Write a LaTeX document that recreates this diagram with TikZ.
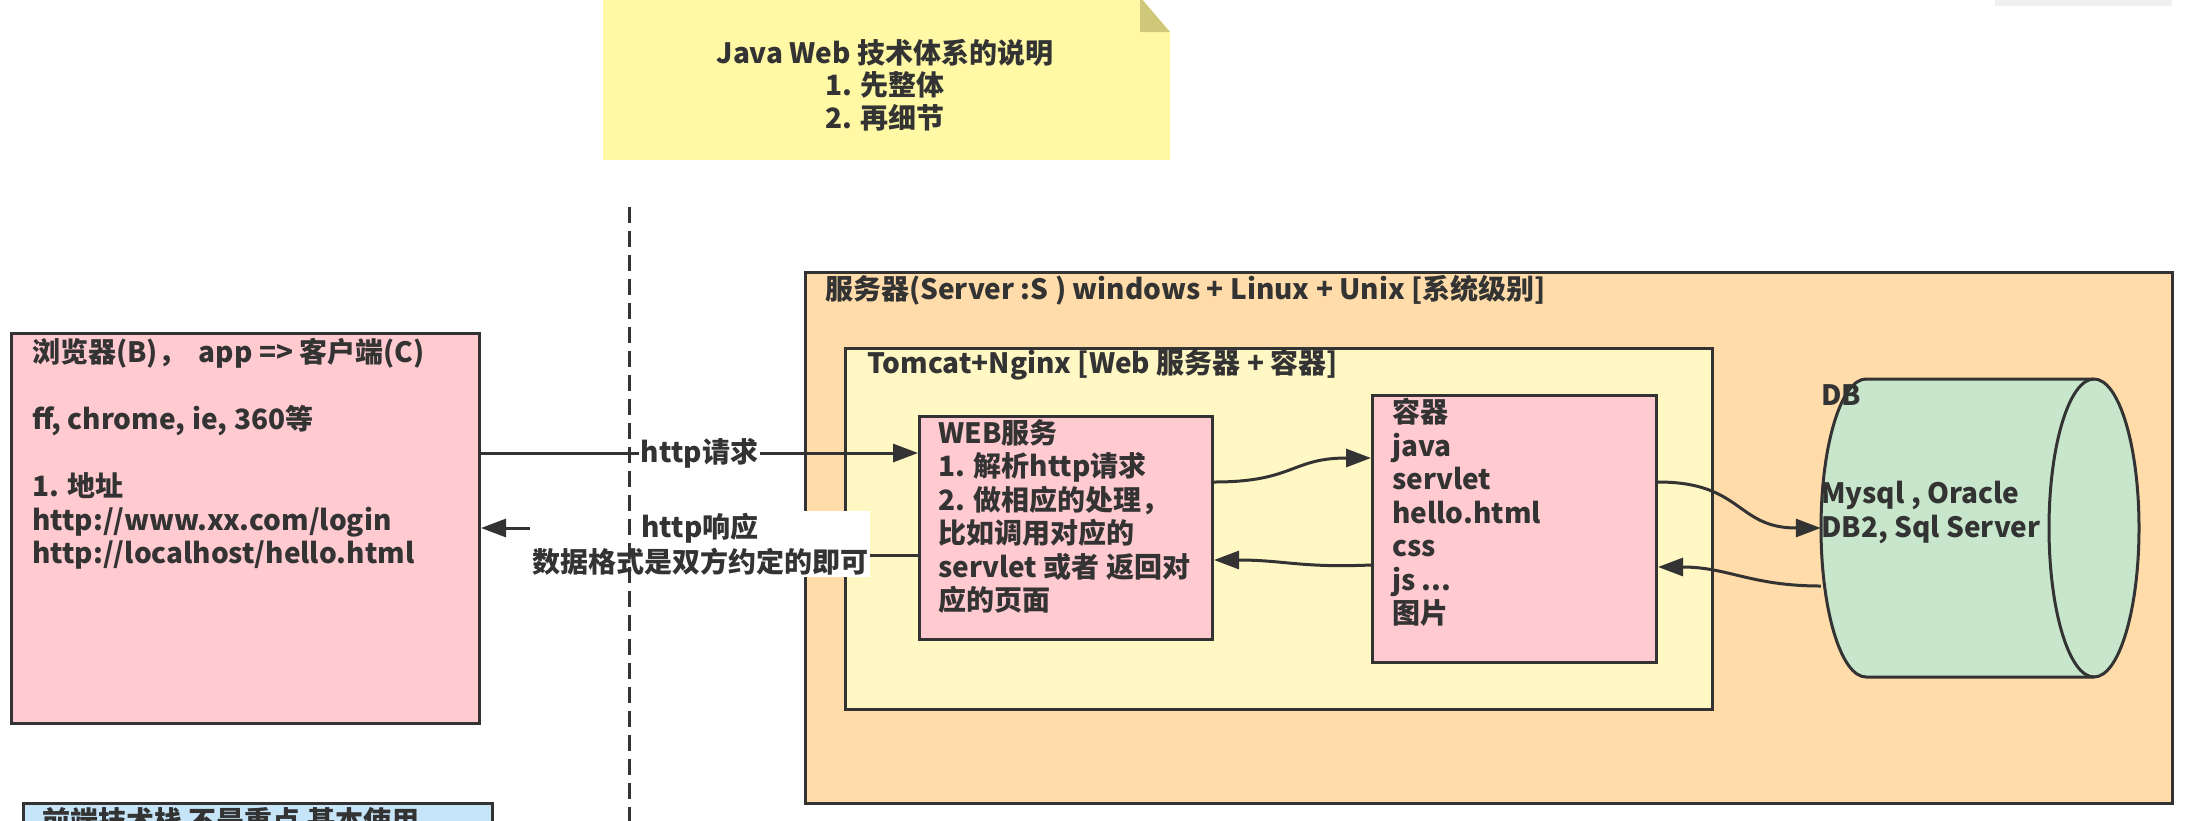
\documentclass[tikz,border=0pt]{standalone}
\usepackage{fontspec}
\setmainfont{Noto Sans CJK SC}
\usetikzlibrary{arrows.meta,calc}
\definecolor{ink}{HTML}{333333}
\definecolor{pinkf}{HTML}{FFCAD0}
\definecolor{orangef}{HTML}{FFDCA9}
\definecolor{yellowf}{HTML}{FFF8C4}
\definecolor{notef}{HTML}{FFF9A6}
\definecolor{notefold}{HTML}{CFC87A}
\definecolor{greenf}{HTML}{C8E6CB}
\definecolor{bluef}{HTML}{C6E5F8}
\tikzset{
  box/.style={draw=ink, line width=3pt, inner sep=0pt, anchor=north west},
  txt/.style={text=ink, font=\fontsize{28}{33.5}\selectfont\bfseries, align=left, anchor=north west, inner sep=0pt},
  ltxt/.style={text=ink, font=\fontsize{28}{33.5}\selectfont\bfseries, anchor=west, inner sep=0pt},
  ctxt/.style={text=ink, font=\fontsize{28}{32.5}\selectfont\bfseries, align=center, inner sep=0pt},
  arr/.style={draw=ink, line width=3pt, -{Triangle[length=25pt,width=18pt]}},
  lbl/.style={fill=white, text=ink, font=\fontsize{28}{35}\selectfont\bfseries, align=center, inner sep=2pt},
}
\begin{document}
\begin{tikzpicture}[x=1pt,y=-1pt]
\useasboundingbox (0,0) rectangle (2189,820);
\clip (0,0) rectangle (2189,820);
% faint bar top right
\fill[gray!12] (1995,0) rectangle (2172,6);
% note
\fill[notef] (603,-3) -- (1140,-3) -- (1170,32) -- (1170,160) -- (603,160) -- cycle;
\fill[notefold] (1140,-3) -- (1170,32) -- (1140,32) -- cycle;
\node[ctxt] (note) at (885,85) {Java Web 技术体系的说明\\1. 先整体\\2. 再细节};
% containers
\node[box, fill=orangef, minimum width=1367pt, minimum height=531pt] (server) at (804,271) {};
\node[box, fill=yellowf, minimum width=867pt, minimum height=361pt] (tomcat) at (844,347) {};
\node[box, fill=pinkf, minimum width=468pt, minimum height=390pt] (browser) at (10,332) {};
\node[box, fill=pinkf, minimum width=293pt, minimum height=223pt] (web) at (918,415) {};
\node[box, fill=pinkf, minimum width=284pt, minimum height=267pt] (cont) at (1371,394) {};
\node[box, fill=bluef, minimum width=469pt, minimum height=60pt] (fe) at (22,802) {};
% cylinder
\node[inner sep=0pt, minimum width=318pt, minimum height=298pt] (db) at (1980,528) {};
\filldraw[fill=greenf, draw=ink, line width=3pt]
  (2094,379) -- (1866,379) arc[start angle=90, end angle=270, x radius=45pt, y radius=149pt]
  -- (2094,677) arc[start angle=270, end angle=450, x radius=45pt, y radius=149pt] -- cycle;
\draw[ink, line width=3pt] (2094,379) arc[start angle=90, end angle=270, x radius=45pt, y radius=149pt];
% texts
\node[txt] (btxt) at (32,338) {浏览器(B)，\ \ app => 客户端(C)\\[33.5pt]ff, chrome, ie, 360等\\[33.5pt]1. 地址\\http://www.xx.com/login\\http://localhost/hello.html};
\node[ltxt] (stitle) at (825,290) {服务器(Server :S ) windows + Linux + Unix [系统级别]};
\node[ltxt] (ttitle) at (867,365) {Tomcat+Nginx [Web 服务器 + 容器]};
\node[txt] (wtxt) at (938,419) {WEB服务\\1. 解析http请求\\2. 做相应的处理，\\比如调用对应的\\servlet 或者 返回对\\应的页面};
\node[txt] (ctxt) at (1392,398) {容器\\java\\servlet\\hello.html\\css\\js ...\\图片};
\node[ltxt] (dbl) at (1821,395) {DB};
\node[txt] (dbtxt) at (1821,481) {Mysql , Oracle\\DB2, Sql Server};
\node[ltxt] (fetxt) at (42,821) {前端技术栈 不是重点 基本使用};
% connectors
\coordinate (rq) at (700,453);
\draw[arr] (browser.east |- rq) -- node[lbl] (reql) {http请求} (web.west |- rq);
\coordinate (rs1) at (700,555);
\coordinate (rs2) at (700,528);
\draw[arr] (web.west |- rs1) -- (rs1) -- (rs2) -- (browser.east |- rs2);
\node[lbl] (respl) at (700,544) {http响应\\数据格式是双方约定的即可};
\draw[arr] ([yshift=-67pt]web.north east) .. controls +(80pt,0pt) and +(-80pt,0pt) .. ([yshift=-64pt]cont.north west);
\draw[arr] ([yshift=-171pt]cont.north west) .. controls +(-70pt,-3pt) and +(70pt,0pt) .. ([yshift=-145pt]web.north east);
\draw[arr] ([yshift=-88pt]cont.north east) .. controls +(85pt,0pt) and +(-85pt,0pt) .. (db.west);
\draw[arr] ([yshift=-58pt]db.west) .. controls +(-70pt,0pt) and +(70pt,0pt) .. ([yshift=-173pt]cont.north east);
% dashed divider
\coordinate (dtop) at (629,207);
\coordinate (dbot) at (629,830);
\draw[ink, line width=3pt, dash pattern=on 16pt off 8pt] (dtop) -- (dbot);
\end{tikzpicture}
\end{document}
